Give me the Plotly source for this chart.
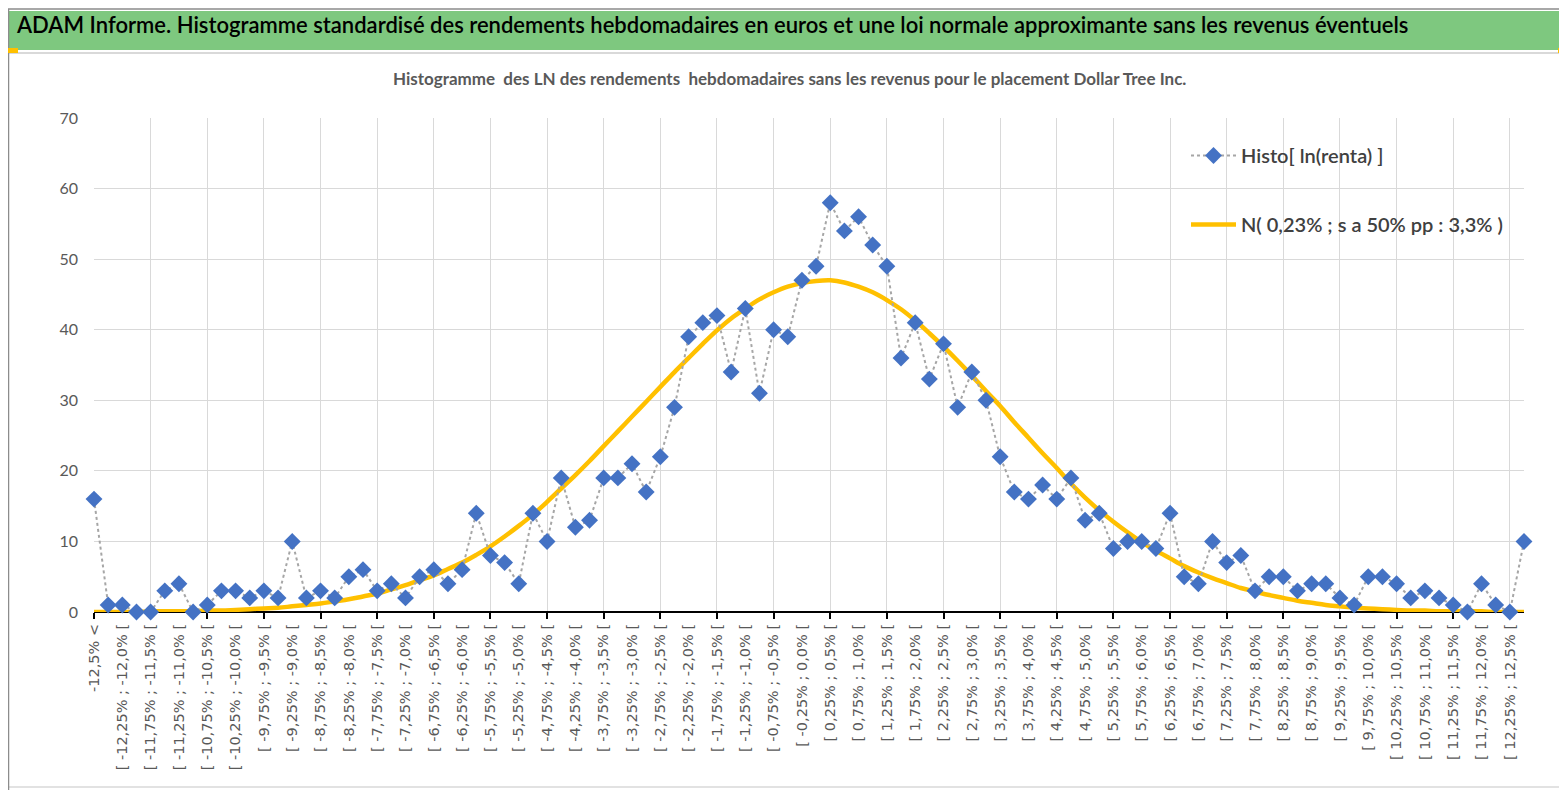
import plotly.graph_objects as go

# nombre de semaines par classe de rendement
histo = [16, 1, 1, 0, 0, 3, 4, 0, 1, 3,
         3, 2, 3, 2, 10, 2, 3, 2, 5, 6,
         3, 4, 2, 5, 6, 4, 6, 14, 8, 7,
         4, 14, 10, 19, 12, 13, 19, 19, 21, 17,
         22, 29, 39, 41, 42, 34, 43, 31, 40, 39,
         47, 49, 58, 54, 56, 52, 49, 36, 41, 33,
         38, 29, 34, 30, 22, 17, 16, 18, 16, 19,
         13, 14, 9, 10, 10, 9, 14, 5, 4, 10,
         7, 8, 3, 5, 5, 3, 4, 4, 2, 1,
         5, 5, 4, 2, 3, 2, 1, 0, 4, 1,
         0, 10]

# loi normale approximante (lue sur la courbe jaune)
normale = [0.0, 0.0, 0.0, 0.0, 0.1, 0.1, 0.1, 0.1, 0.2, 0.2,
           0.3, 0.4, 0.5, 0.6, 0.8, 1.0, 1.2, 1.5, 1.8, 2.2,
           2.6, 3.2, 3.8, 4.5, 5.2, 6.1, 7.0, 8.1, 9.3, 10.7,
           12.2, 13.8, 15.6, 17.5, 19.4, 21.4, 23.5, 25.6, 27.7, 29.8,
           31.9, 34.0, 36.0, 38.0, 39.9, 41.6, 43.0, 44.3, 45.3, 46.1,
           46.6, 46.9, 47.0, 46.7, 46.1, 45.3, 44.2, 42.9, 41.3, 39.5,
           37.6, 35.6, 33.5, 31.3, 29.2, 26.9, 24.7, 22.5, 20.4, 18.2,
           16.2, 14.4, 12.8, 11.3, 9.9, 8.7, 7.6, 6.5, 5.6, 4.8,
           4.1, 3.4, 2.9, 2.4, 2.0, 1.6, 1.3, 1.0, 0.8, 0.6,
           0.5, 0.4, 0.3, 0.2, 0.2, 0.1, 0.1, 0.1, 0.1, 0.0,
           0.0, 0.0]

# etiquettes affichees (une classe sur deux)
etiquettes = ["-12,5% <",
              "[ -12,25% ; -12,0% [", "[ -11,75% ; -11,5% [", "[ -11,25% ; -11,0% [",
              "[ -10,75% ; -10,5% [", "[ -10,25% ; -10,0% [", "[ -9,75% ; -9,5% [",
              "[ -9,25% ; -9,0% [", "[ -8,75% ; -8,5% [", "[ -8,25% ; -8,0% [",
              "[ -7,75% ; -7,5% [", "[ -7,25% ; -7,0% [", "[ -6,75% ; -6,5% [",
              "[ -6,25% ; -6,0% [", "[ -5,75% ; -5,5% [", "[ -5,25% ; -5,0% [",
              "[ -4,75% ; -4,5% [", "[ -4,25% ; -4,0% [", "[ -3,75% ; -3,5% [",
              "[ -3,25% ; -3,0% [", "[ -2,75% ; -2,5% [", "[ -2,25% ; -2,0% [",
              "[ -1,75% ; -1,5% [", "[ -1,25% ; -1,0% [", "[ -0,75% ; -0,5% [",
              "[ -0,25% ; 0,0% [", "[ 0,25% ; 0,5% [", "[ 0,75% ; 1,0% [",
              "[ 1,25% ; 1,5% [", "[ 1,75% ; 2,0% [", "[ 2,25% ; 2,5% [",
              "[ 2,75% ; 3,0% [", "[ 3,25% ; 3,5% [", "[ 3,75% ; 4,0% [",
              "[ 4,25% ; 4,5% [", "[ 4,75% ; 5,0% [", "[ 5,25% ; 5,5% [",
              "[ 5,75% ; 6,0% [", "[ 6,25% ; 6,5% [", "[ 6,75% ; 7,0% [",
              "[ 7,25% ; 7,5% [", "[ 7,75% ; 8,0% [", "[ 8,25% ; 8,5% [",
              "[ 8,75% ; 9,0% [", "[ 9,25% ; 9,5% [", "[ 9,75% ; 10,0% [",
              "[ 10,25% ; 10,5% [", "[ 10,75% ; 11,0% [", "[ 11,25% ; 11,5% [",
              "[ 11,75% ; 12,0% [", "[ 12,25% ; 12,5% ["]

positions = list(range(len(histo)))
pos_etiquettes = positions[::2]

W, H = 1567, 790
ML, MR, MT, MB = 86, 51, 110, 186
PW, PH = W - ML - MR, H - MT - MB

NARROW = "Lato, Roboto, sans-serif"

#pixel -> paper
def px(x):
    return (x - ML) / PW

def py(y):
    return (H - MB - y) / PH

fig = go.Figure()
fig.add_trace(go.Scatter(x=positions, y=normale, mode='lines', name='N( 0,23% ; s a 50% pp : 3,3% )',
                         line=dict(color='#FFC000', width=4.5, shape='spline'),
                         legendgroup='b', legendrank=2, hoverinfo='skip'))
fig.add_trace(go.Scatter(x=positions, y=histo, mode='lines+markers', name='Histo[ ln(renta) ]',
                         line=dict(color='#A6A6A6', width=2, dash='dot'),
                         marker=dict(symbol='diamond', size=13, color='#4472C4'),
                         xaxis='x2', cliponaxis=False, legendgroup='a', legendrank=1))

shapes = [
    # bandeau vert du titre
    dict(type='rect', xref='paper', yref='paper', x0=px(0), x1=px(1563), y0=py(42), y1=py(3),
         fillcolor='#7EC87F', line=dict(width=0), layer='below'),
    dict(type='line', xref='paper', yref='paper', x0=px(0), x1=px(1563), y0=py(45), y1=py(45),
         line=dict(color='#D9D9D9', width=2)),
    # cadre du graphique
    dict(type='line', xref='paper', yref='paper', x0=px(1563), x1=px(1563), y0=py(45), y1=py(779),
         line=dict(color='#D9D9D9', width=1.5)),
    dict(type='line', xref='paper', yref='paper', x0=px(0), x1=px(1563), y0=py(779), y1=py(779),
         line=dict(color='#D9D9D9', width=1.5)),
    # bord exterieur
    dict(type='rect', xref='paper', yref='paper', x0=px(0.5), x1=px(1566), y0=py(789), y1=py(1),
         line=dict(color='#8C8C8C', width=1.5)),
    # poignees de selection
    dict(type='rect', xref='paper', yref='paper', x0=px(0), x1=px(10), y0=py(45), y1=py(40),
         fillcolor='#FFC000', line=dict(width=0)),
    dict(type='rect', xref='paper', yref='paper', x0=px(1550), x1=px(1566), y0=py(45), y1=py(40),
         fillcolor='#FFC000', line=dict(width=0)),
    dict(type='rect', xref='paper', yref='paper', x0=px(1561), x1=px(1566), y0=py(72), y1=py(40),
         fillcolor='#FFC000', line=dict(width=0)),
    dict(type='rect', xref='paper', yref='paper', x0=px(1555), x1=px(1566), y0=py(786), y1=py(781),
         fillcolor='#FFC000', line=dict(width=0)),
    dict(type='rect', xref='paper', yref='paper', x0=px(1561), x1=px(1566), y0=py(786), y1=py(760),
         fillcolor='#FFC000', line=dict(width=0)),
    # fond blanc de la legende
    dict(type='rect', xref='paper', yref='paper', x0=px(1155), x1=px(1510), y0=py(258), y1=py(117),
         fillcolor='white', line=dict(width=0), layer='between'),
]

fig.update_layout(
    width=W, height=H,
    margin=dict(l=ML, r=MR, t=MT, b=MB),
    paper_bgcolor='white', plot_bgcolor='white',
    shapes=shapes,
    showlegend=True,
    legend=dict(x=px(1178), y=py(128), xanchor='left', yanchor='top', bgcolor='rgba(0,0,0,0)',
                font=dict(family=NARROW, size=20, color='#404040', weight=600), tracegroupgap=40,
                itemwidth=45),
    xaxis=dict(range=[0, 101], tickvals=pos_etiquettes, ticktext=etiquettes, tickangle=-90,
               showgrid=False, zeroline=False, ticks='', showline=False, ticklabelstandoff=8,
               tickfont=dict(family='DejaVu Sans', size=14.5, color='#595959')),
    xaxis2=dict(overlaying='x', side='bottom', range=[0, 101], tick0=0, dtick=4,
                showgrid=True, gridcolor='#D9D9D9', gridwidth=1, ticks='outside', ticklen=6,
                tickcolor='black', tickwidth=1.5, showticklabels=False, zeroline=False,
                layer='below traces'),
    yaxis=dict(range=[0, 70], dtick=10, showgrid=True, gridcolor='#D9D9D9', zeroline=True,
               zerolinecolor='black', zerolinewidth=2, ticks='', ticklabelstandoff=15,
               tickfont=dict(family=NARROW, size=16, color='#595959')),
    annotations=[
        dict(text="ADAM Informe. Histogramme standardisé des rendements hebdomadaires en euros et une loi normale approximante sans les revenus éventuels",
             xref='paper', yref='paper', x=px(6), y=py(16), xanchor='left', yanchor='middle',
             showarrow=False, font=dict(family=NARROW, size=22, color='black', weight=600)),
        dict(text="Histogramme  des LN des rendements  hebdomadaires sans les revenus pour le placement Dollar Tree Inc.",
             xref='paper', yref='paper', x=px(781), y=py(71), xanchor='center', yanchor='middle',
             showarrow=False, font=dict(family=NARROW, size=17, color='#595959', weight='bold')),
    ],
)

fig.write_html("out.html")
